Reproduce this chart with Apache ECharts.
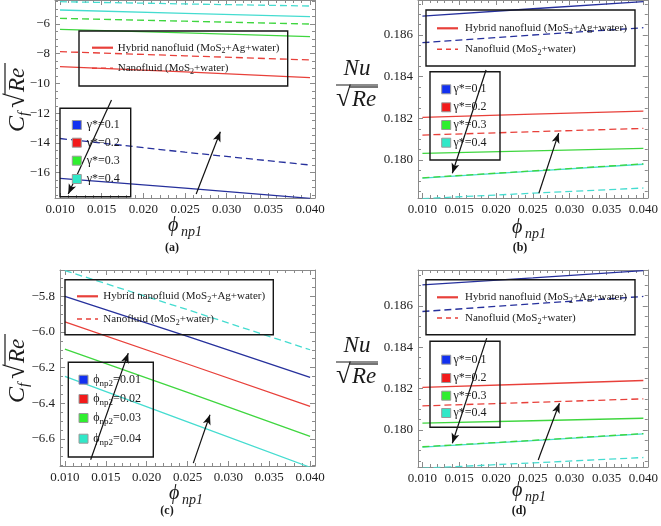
<!DOCTYPE html>
<html><head><meta charset="utf-8">
<script src="https://cdn.jsdelivr.net/npm/echarts@6/dist/echarts.min.js"></script>
<style>html,body{margin:0;padding:0;background:#fff}#c{width:661px;height:526px}</style>
</head><body><div id="c"></div>
<script>
// ---------- data ----------
const phiNp1 = [0.010, 0.025, 0.040];
const xTicks = [0.010, 0.015, 0.020, 0.025, 0.030, 0.035, 0.040];
const xTickLabels = ['0.010', '0.015', '0.020', '0.025', '0.030', '0.035', '0.040'];

const yTicksA = [-16, -14, -12, -10, -8, -6];
const yLabelsA = ['\u221216', '\u221214', '\u221212', '\u221210', '\u22128', '\u22126'];
const yTicksB = [0.180, 0.182, 0.184, 0.186];
const yLabelsB = ['0.180', '0.182', '0.184', '0.186'];
const yTicksC = [-6.6, -6.4, -6.2, -6.0, -5.8];
const yLabelsC = ['\u22126.6', '\u22126.4', '\u22126.2', '\u22126.0', '\u22125.8'];
const yTicksD = [0.180, 0.182, 0.184, 0.186];
const yLabelsD = ['0.180', '0.182', '0.184', '0.186'];

// (a) Cf sqrt(Re) vs phi_np1 for gamma* values
const aHybridG01 = [-16.38, -17.03, -17.72];
const aHybridG02 = [-8.87, -9.22, -9.60];
const aHybridG03 = [-6.36, -6.60, -6.85];
const aHybridG04 = [-5.06, -5.29, -5.51];
const aNanoG01 = [-13.70, -14.62, -15.48];
const aNanoG02 = [-7.86, -8.14, -8.42];
const aNanoG03 = [-5.62, -5.81, -6.00];
const aNanoG04 = [-4.50, -4.65, -4.79];

// (b) Nu/sqrt(Re) vs phi_np1 for gamma* values
const bHybridG01 = [0.18691, 0.18726, 0.18760];
const bHybridG02 = [0.18205, 0.18220, 0.18235];
const bHybridG03 = [0.18032, 0.18044, 0.18056];
const bHybridG04 = [0.17913, 0.17947, 0.17980];
const bNanoG01 = [0.18563, 0.18600, 0.18635];
const bNanoG02 = [0.18120, 0.18136, 0.18152];
const bNanoG03 = [0.17915, 0.17948, 0.17982];
const bNanoG04 = [0.17815, 0.17841, 0.17866];

// (c) Cf sqrt(Re) vs phi_np1 for phi_np2 values
const cHybridP01 = [-5.800, -6.025, -6.255];
const cHybridP02 = [-5.944, -6.180, -6.418];
const cHybridP03 = [-6.096, -6.340, -6.587];
const cHybridP04 = [-6.250, -6.505, -6.760];
const cNanoP04 = [-5.655, -5.875, -6.100];

// (d) Nu/sqrt(Re) vs phi_np1 for gamma* values
const dHybridG01 = [0.18702, 0.18736, 0.18771];
const dHybridG02 = [0.18206, 0.18222, 0.18239];
const dHybridG03 = [0.18032, 0.18044, 0.18056];
const dHybridG04 = [0.17916, 0.17948, 0.17980];
const dNanoG01 = [0.18573, 0.18610, 0.18646];
const dNanoG02 = [0.18116, 0.18133, 0.18150];
const dNanoG03 = [0.17918, 0.17949, 0.17982];
const dNanoG04 = [0.17814, 0.17840, 0.17866];

// annotation arrows [from, to] in data coordinates
const aArrows = [[[0.01618, -11.11], [0.01099, -17.43]], [[0.02634, -17.43], [0.02924, -13.24]]];
const bArrows = [[[0.01864, 0.18432], [0.01406, 0.17937]], [[0.02581, 0.17841], [0.02850, 0.18129]]];
const cArrows = [[[0.01315, -6.718], [0.01775, -6.119]], [[0.02571, -6.737], [0.02775, -6.465]]];
const dArrows = [[[0.01873, 0.18444], [0.01406, 0.17935]], [[0.02572, 0.17854], [0.02860, 0.18129]]];

const gammaLabels = ['\u03b3*=0.1', '\u03b3*=0.2', '\u03b3*=0.3', '\u03b3*=0.4'];
const phi2Labels = ['0.01', '0.02', '0.03', '0.04'];

// ---------- style ----------
const FONT = "'Liberation Serif','Times New Roman','DejaVu Serif',serif";
const FRAME = '#8a8a8a';
const BLUE = '#26309c', RED = '#e8403a', GREEN = '#3fd63f', CYAN = '#45dcd0';
const SQ = ['#1230f0', '#f21a1a', '#2fef2f', '#30e8c8'];

const xRange = [0.0094, 0.0406];
const panels = [
  {grid: {left: 55, top: 0, width: 260, height: 198}, yr: [-17.70, -4.386], yt: yTicksA, yl: yLabelsA, ysub: 4,
   series: [[aHybridG01, BLUE, 0], [aNanoG01, BLUE, 1], [aHybridG02, RED, 0], [aNanoG02, RED, 1],
            [aHybridG03, GREEN, 0], [aNanoG03, GREEN, 1], [aHybridG04, CYAN, 0], [aNanoG04, CYAN, 1]], arrows: aArrows},
  {grid: {left: 418, top: 0, width: 232, height: 198}, yr: [0.17818, 0.18768], yt: yTicksB, yl: yLabelsB, ysub: 4,
   series: [[bHybridG01, BLUE, 0], [bNanoG01, BLUE, 1], [bHybridG02, RED, 0], [bNanoG02, RED, 1],
            [bHybridG03, GREEN, 0], [bHybridG04, CYAN, 0], [bNanoG03, GREEN, 1], [bNanoG04, CYAN, 1]], arrows: bArrows},
  {grid: {left: 60, top: 270, width: 255, height: 196}, yr: [-6.753, -5.652], yt: yTicksC, yl: yLabelsC, ysub: 4,
   series: [[cHybridP01, BLUE, 0], [cHybridP02, RED, 0], [cHybridP03, GREEN, 0], [cHybridP04, CYAN, 0],
            [cNanoP04, CYAN, 1]], arrows: cArrows},
  {grid: {left: 418, top: 270, width: 232, height: 197}, yr: [0.17820, 0.18774], yt: yTicksD, yl: yLabelsD, ysub: 4,
   series: [[dHybridG01, BLUE, 0], [dNanoG01, BLUE, 1], [dHybridG02, RED, 0], [dNanoG02, RED, 1],
            [dHybridG03, GREEN, 0], [dHybridG04, CYAN, 0], [dNanoG03, GREEN, 1], [dNanoG04, CYAN, 1]], arrows: dArrows}
];

function minors(majors, sub, range) {
  const step = (majors[1] - majors[0]) / sub, out = [];
  for (let k = -sub; k <= (majors.length - 1) * sub + sub; k++) {
    if (k % sub === 0) continue;
    const v = majors[0] + k * step;
    if (v > range[0] && v < range[1]) out.push(+v.toPrecision(10));
  }
  return out;
}
function lookup(ticks, labels) {
  return v => { const i = ticks.findIndex(t => Math.abs(t - v) < 1e-9 + Math.abs(t) * 1e-7); return i >= 0 ? labels[i] : ''; };
}

const grids = [], xAxes = [], yAxes = [], series = [];
panels.forEach((p, gi) => {
  grids.push(p.grid);
  const xMin = minors(xTicks, 5, xRange), yMin = minors(p.yt, p.ysub, p.yr);
  const mk = (isX, pos, vals, len, showLine, labels) => {
    const ax = {
      type: 'value', gridIndex: gi, position: pos, min: isX ? xRange[0] : p.yr[0], max: isX ? xRange[1] : p.yr[1],
      axisLine: {show: showLine, onZero: false, lineStyle: {color: FRAME, width: 1}},
      axisTick: {show: true, inside: true, length: len, customValues: vals, lineStyle: {color: FRAME, width: 1}},
      axisLabel: {show: false}, splitLine: {show: false}, minorTick: {show: false}
    };
    if (labels) {
      ax.axisLabel = {show: true, customValues: vals, formatter: lookup(isX ? xTicks : p.yt, labels),
        fontFamily: FONT, fontSize: 13, color: '#1e1e1e', margin: 5};
    }
    return ax;
  };
  const xb = xAxes.length;
  xAxes.push(mk(true, 'bottom', xTicks, 5, true, xTickLabels));
  xAxes.push(mk(true, 'bottom', xMin, 3, false));
  xAxes.push(mk(true, 'top', xTicks, 5, true));
  xAxes.push(mk(true, 'top', xMin, 3, false));
  const yb = yAxes.length;
  yAxes.push(mk(false, 'left', p.yt, 5, true, p.yl));
  yAxes.push(mk(false, 'left', yMin, 3, false));
  yAxes.push(mk(false, 'right', p.yt, 5, true));
  yAxes.push(mk(false, 'right', yMin, 3, false));
  p.series.forEach((s, si) => {
    const ser = {
      type: 'line', xAxisIndex: xb, yAxisIndex: yb, symbol: 'none', silent: true, clip: true,
      data: phiNp1.map((x, i) => [x, s[0][i]]),
      lineStyle: {color: s[1], width: 1.3, type: s[2] ? [7, 4] : 'solid'}, z: 3
    };
    if (si === 0) {
      ser.markLine = {
        silent: true, symbol: ['none', 'arrow'], symbolSize: [6, 10], label: {show: false}, z: 6,
        lineStyle: {color: '#111', width: 1.2, type: 'solid'}, emphasis: {disabled: true},
        data: p.arrows.map(a => [{coord: a[0]}, {coord: a[1]}])
      };
    }
    series.push(ser);
  });
});

// ---------- decorations: legends and titles ----------
const G = [];
const MID = {verticalAlign: 'middle', textVerticalAlign: 'middle'};
function tstyle(o) {
  return Object.assign({fontFamily: FONT, fontSize: 12, fill: '#1a1a1a', align: 'left', textAlign: 'left'}, MID, o);
}
function txt(x, y, text, o) {
  G.push({type: 'text', x: x, y: y, z: 20, style: tstyle(Object.assign({text: text}, o || {}))});
}
function box(x, y, w, h) {
  G.push({type: 'rect', z: 19, shape: {x: x, y: y, width: w, height: h}, style: {fill: 'none', stroke: '#161616', lineWidth: 1.4}});
}
function ln(x1, y1, x2, y2, color, w, dash) {
  G.push({type: 'line', z: 20, shape: {x1: x1, y1: y1, x2: x2, y2: y2}, style: {stroke: color, lineWidth: w, lineDash: dash || null}});
}
const subRich = {s: {fontSize: 8, fontFamily: FONT, verticalAlign: 'bottom', lineHeight: 8, fill: '#1a1a1a'}};
function lineLegend(bx, by, bw, bh, sx, r1, r2, tx) {
  box(bx, by, bw, bh);
  ln(sx, r1, sx + 21, r1, RED, 2.2);
  ln(sx, r2, sx + 21, r2, RED, 1.6, [5, 4]);
  txt(tx, r1, 'Hybrid nanofluid (MoS{s|2}+Ag+water)', {fontSize: 11, lineHeight: 15, rich: subRich});
  txt(tx, r2, 'Nanofluid (MoS{s|2}+water)', {fontSize: 11, lineHeight: 15, rich: subRich});
}
function squareLegend(bx, by, bw, bh, sx, rows, tx, labels, rich) {
  box(bx, by, bw, bh);
  rows.forEach((ry, i) => {
    G.push({type: 'rect', z: 20, shape: {x: sx, y: ry - 4.5, width: 9, height: 9}, style: {fill: SQ[i], stroke: '#9a9a9a', lineWidth: 1}});
    txt(tx, ry, labels[i], rich ? {fontSize: 12, lineHeight: 16, rich: rich} : {fontSize: 12});
  });
}
// (a)
lineLegend(79, 31, 208.7, 55, 92, 47.7, 68.3, 117.7);
squareLegend(60, 108.3, 70.7, 88.4, 72.3, [125, 142.7, 160.7, 179], 86.7, gammaLabels);
// (b)
lineLegend(426, 10, 209, 56, 437, 28.3, 49.3, 465);
squareLegend(430, 71.7, 70, 88.3, 441.7, [89.3, 107.3, 125, 142.7], 453.5, gammaLabels);
// (c)
lineLegend(65, 279.7, 208.3, 55, 77, 296.3, 319, 103.3);
squareLegend(68.3, 362.3, 85, 94.7, 79, [379.7, 399, 418, 438.7], 93.3,
  phi2Labels.map(v => '\u03d5{s|np2}=' + v),
  {s: {fontSize: 9, fontFamily: FONT, verticalAlign: 'bottom', lineHeight: 9, fill: '#1a1a1a'}});
// (d)
lineLegend(426, 279.7, 209, 55, 437, 297.3, 318, 465);
squareLegend(430, 341.3, 70, 86, 441.7, [359.7, 378, 395.7, 413], 453.5, gammaLabels);

// y titles (rotated)  C_f sqrt(Re)
function cfTitle(cx, cy) {
  G.push({type: 'group', x: cx, y: cy, rotation: Math.PI / 2, z: 20, children: [
    {type: 'text', x: -35, y: 0, style: tstyle({text: 'C', fontSize: 24, fontStyle: 'italic'})},
    {type: 'text', x: -19, y: 6, style: tstyle({text: 'f', fontSize: 15, fontStyle: 'italic'})},
    {type: 'text', x: -11, y: -1, style: tstyle({text: '\u221a', fontSize: 27})},
    {type: 'line', shape: {x1: 3, y1: -13, x2: 34, y2: -13}, style: {stroke: '#1a1a1a', lineWidth: 1.2}},
    {type: 'text', x: 5, y: 0, style: tstyle({text: 'Re', fontSize: 23, fontStyle: 'italic'})}
  ]});
}
cfTitle(18, 97);
cfTitle(18, 368);

// Nu / sqrt(Re) fraction titles
function nuTitle(cx, nuY, barY, reY) {
  txt(cx, nuY, 'Nu', {fontSize: 23, fontStyle: 'italic', align: 'center', textAlign: 'center'});
  ln(cx - 21, barY, cx + 21, barY, '#1a1a1a', 1.2);
  txt(cx - 21, reY - 1, '\u221a', {fontSize: 27});
  ln(cx - 7, reY - 13, cx + 21, reY - 13, '#1a1a1a', 1.2);
  txt(cx - 5, reY, 'Re', {fontSize: 23, fontStyle: 'italic'});
}
nuTitle(357, 69, 85, 100);
nuTitle(357, 346, 362, 377);

// x titles  phi_np1
function phiTitle(x0, cy) {
  txt(x0, cy - 2, '\u03d5', {fontSize: 20, fontStyle: 'italic'});
  txt(x0 + 13, cy + 4, 'np1', {fontSize: 14, fontStyle: 'italic'});
}
phiTitle(168, 228);
phiTitle(512, 230);
phiTitle(169, 496);
phiTitle(512, 493);

// panel letters
txt(172, 248, '(a)', {fontWeight: 'bold', fontSize: 12, align: 'center', textAlign: 'center'});
txt(520, 248, '(b)', {fontWeight: 'bold', fontSize: 12, align: 'center', textAlign: 'center'});
txt(167, 511, '(c)', {fontWeight: 'bold', fontSize: 12, align: 'center', textAlign: 'center'});
txt(519, 511, '(d)', {fontWeight: 'bold', fontSize: 12, align: 'center', textAlign: 'center'});

const chart = echarts.init(document.getElementById('c'), null, {renderer: 'canvas'});
chart.setOption({
  animation: false, backgroundColor: '#ffffff',
  grid: grids, xAxis: xAxes, yAxis: yAxes, series: series,
  graphic: {elements: G}
});
</script></body></html>
